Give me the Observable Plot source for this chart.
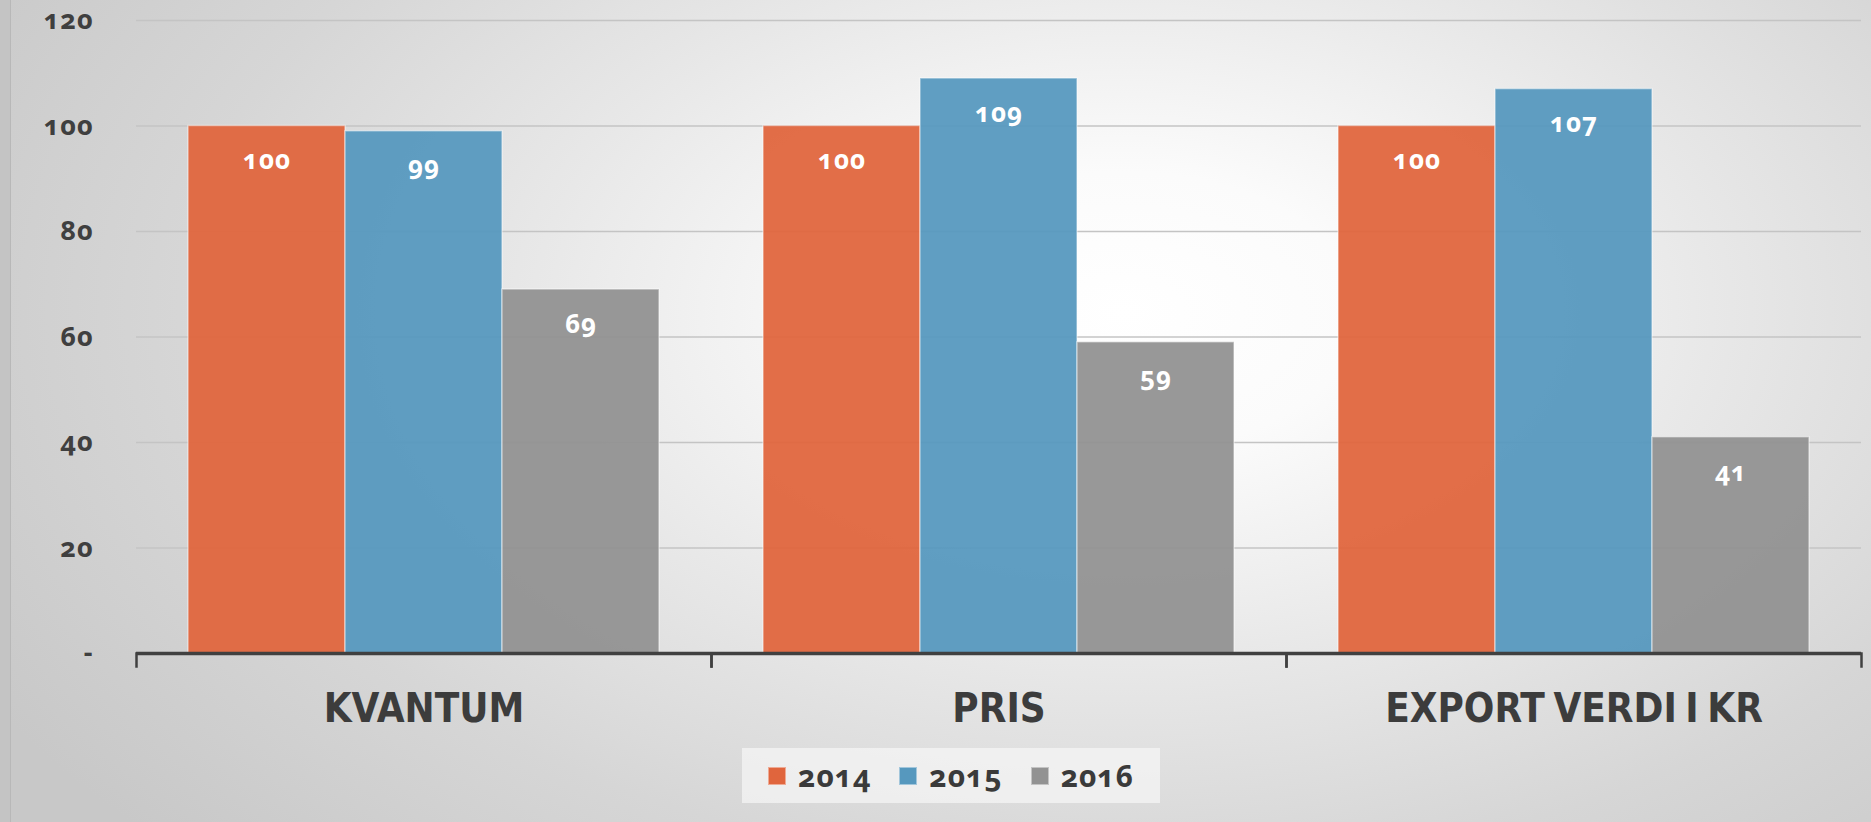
<!DOCTYPE html>
<html>
<head>
<meta charset="utf-8">
<script src="https://cdn.jsdelivr.net/npm/d3@7"></script>
<script src="https://cdn.jsdelivr.net/npm/@observablehq/plot@0.6"></script>
<style>
  html, body { margin: 0; padding: 0; }
  body {
    width: 1871px; height: 822px; overflow: hidden; position: relative;
    background: radial-gradient(ellipse 70% 95% at 60% 38%, #ffffff 0%, #fbfbfb 18%, #e8e8e8 45%, #d6d6d6 72%, #c8c8c8 100%);
    font-family: "Open Sans", sans-serif;
  }
  #edge { position: absolute; left: 0; top: 0; width: 10px; height: 822px; background: #c4c4c4; border-right: 1px solid #b8b8b8; }
  #chart { position: absolute; left: 0; top: 0; }
  #chart svg { background: transparent; overflow: visible; }
  #legend {
    position: absolute; left: 742px; top: 748px; width: 418px; height: 55px;
    background: rgba(246,246,246,0.7);
    display: flex; align-items: center; justify-content: center; gap: 28px;
    font-family: "Open Sans", sans-serif; font-weight: 700; font-size: 30px; color: #3a3a3a;
    font-variant-numeric: oldstyle-nums; letter-spacing: 1px;
  }
  .item { display: flex; align-items: center; gap: 12px; }
  .sw { width: 18px; height: 18px; box-sizing: border-box; border: 1.5px solid rgba(255,255,255,0.45); }
</style>
</head>
<body>
<div id="edge"></div>
<div id="chart"></div>
<div id="legend"></div>
<script>
const categories = ["KVANTUM", "PRIS", "EXPORT VERDI I KR"];
const years = ["2014", "2015", "2016"];
const values2014 = [100, 100, 100];
const values2015 = [99, 109, 107];
const values2016 = [69, 59, 41];
const yTicks = [0, 20, 40, 60, 80, 100, 120];
const colors = ["#e0653d", "#5698be", "#929292"];

const series = [values2014, values2015, values2016];
const data = [];
categories.forEach((c, i) => {
  years.forEach((y, j) => data.push({category: c, year: y, value: series[j][i]}));
});

const W = 1871, H = 740, mTop = 20, mBottom = 87;

const chart = Plot.plot({
  width: W,
  height: H,
  marginTop: mTop,
  marginBottom: mBottom,
  marginLeft: 135,
  marginRight: 9,
  style: {background: "transparent", overflow: "visible"},
  fx: {domain: categories, paddingInner: 0, paddingOuter: 0, label: null},
  x: {domain: years, paddingInner: 0, paddingOuter: 0.33, axis: null},
  y: {domain: [0, 120], label: null},
  color: {domain: years, range: colors},
  marks: [
    Plot.ruleY(yTicks.filter(d => d > 0), {stroke: "#c4c4c4", strokeWidth: 1.3}),
    Plot.barY(data, {
      fx: "category", x: "year", y: "value", fill: "year",
      fillOpacity: 0.94, stroke: "#ffffff", strokeOpacity: 0.45, strokeWidth: 1.5
    }),
    Plot.text(data, {
      fx: "category", x: "year", y: "value", text: d => String(d.value),
      dy: 35, fill: "white", fontSize: 26, fontWeight: 700,
      fontFamily: "'Open Sans', sans-serif"
    }),
    Plot.ruleY([0], {stroke: "#404040", strokeWidth: 3.5}),
    Plot.frame({anchor: "left", stroke: "#404040", strokeWidth: 2.5, insetTop: H - mTop - mBottom, insetBottom: -13}),
    Plot.frame({anchor: "right", stroke: "#404040", strokeWidth: 2.5, insetTop: H - mTop - mBottom, insetBottom: -13}),
    Plot.axisY({
      ticks: yTicks, tickSize: 0, tickPadding: 43,
      tickFormat: d => d === 0 ? "-" : String(d),
      fontSize: 27, fontWeight: 700, fill: "#3f3f3f",
      fontFamily: "'Open Sans', sans-serif", label: null
    }),
    Plot.axisFx({
      anchor: "bottom",
      tickSize: 0, tickPadding: 40, fontSize: 40, fontWeight: 700,
      fill: "#3c3c3c", label: null,
      fontFamily: "'Liberation Sans Narrow', 'DejaVu Sans Condensed', 'Roboto Condensed', sans-serif"
    })
  ]
});
chart.querySelectorAll("text").forEach(t => {
  if (/^(\d+|-)$/.test(t.textContent)) {
    t.style.fontVariantNumeric = "oldstyle-nums";
    t.style.letterSpacing = "1px";
  }
  if (/[A-Z]/.test(t.textContent)) {
    t.style.wordSpacing = "-4px";
  }
});
document.getElementById("chart").appendChild(chart);

const legend = document.getElementById("legend");
years.forEach((y, i) => {
  const item = document.createElement("div");
  item.className = "item";
  const sw = document.createElement("span");
  sw.className = "sw";
  sw.style.background = colors[i];
  const lab = document.createElement("span");
  lab.textContent = y;
  item.appendChild(sw);
  item.appendChild(lab);
  legend.appendChild(item);
});
</script>
</body>
</html>
